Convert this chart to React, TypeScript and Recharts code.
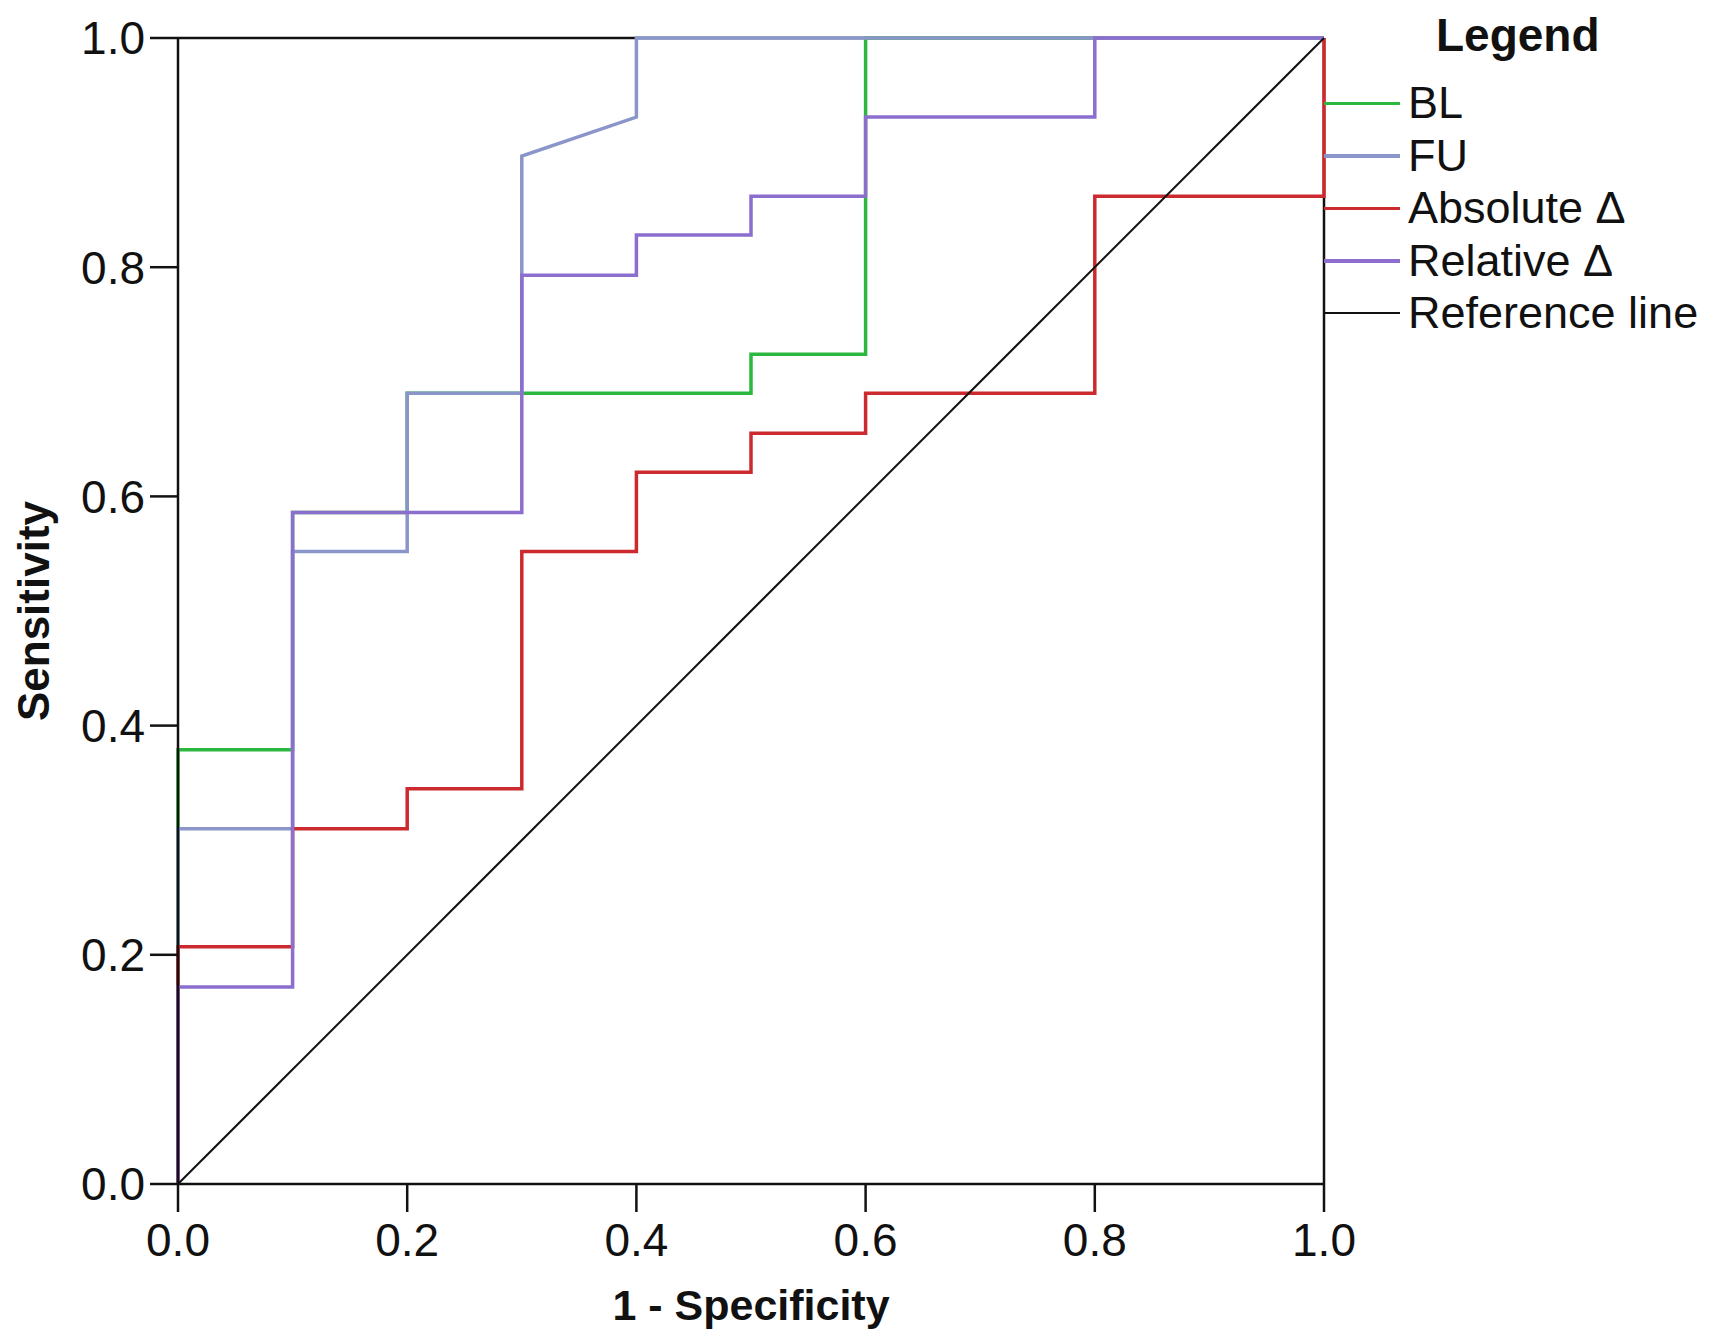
import React from "react";
import { LineChart, Line, XAxis, YAxis, ReferenceLine, Legend, Label } from "recharts";

// ROC curve points (1 - specificity, sensitivity)
const blFpr = [0, 0, 0.1, 0.1, 0.2, 0.2, 0.5, 0.5, 0.6, 0.6, 1];
const blTpr = [0, 0.379, 0.379, 0.586, 0.586, 0.69, 0.69, 0.724, 0.724, 1, 1];

const fuFpr = [0, 0, 0.1, 0.1, 0.2, 0.2, 0.3, 0.3, 0.4, 0.4, 1];
const fuTpr = [0, 0.31, 0.31, 0.552, 0.552, 0.69, 0.69, 0.897, 0.931, 1, 1];

const absFpr = [0, 0, 0.1, 0.1, 0.2, 0.2, 0.3, 0.3, 0.4, 0.4, 0.5, 0.5, 0.6, 0.6, 0.8, 0.8, 1, 1];
const absTpr = [0, 0.207, 0.207, 0.31, 0.31, 0.345, 0.345, 0.552, 0.552, 0.621, 0.621, 0.655, 0.655, 0.69, 0.69, 0.862, 0.862, 1];

const relFpr = [0, 0, 0.1, 0.1, 0.3, 0.3, 0.4, 0.4, 0.5, 0.5, 0.6, 0.6, 0.8, 0.8, 1];
const relTpr = [0, 0.172, 0.172, 0.586, 0.586, 0.793, 0.793, 0.828, 0.828, 0.862, 0.862, 0.931, 0.931, 1, 1];

const refFpr = [0, 1];
const refTpr = [0, 1];

const axisTicks = [0, 0.2, 0.4, 0.6, 0.8, 1.0];

const toPoints = (xs: number[], ys: number[]) => xs.map((x, i) => ({ x, y: ys[i] }));

const series = [
  { name: "BL", data: toPoints(blFpr, blTpr), color: "#2cb83f", width: 3.5 },
  { name: "FU", data: toPoints(fuFpr, fuTpr), color: "#8a96c9", width: 3.5 },
  { name: "Absolute Δ", data: toPoints(absFpr, absTpr), color: "#cc2a2e", width: 3.5 },
  { name: "Relative Δ", data: toPoints(relFpr, relTpr), color: "#8b6ecd", width: 3.5 },
  { name: "Reference line", data: toPoints(refFpr, refTpr), color: "#111111", width: 2 },
];

const FONT = '"Liberation Sans", Arial, sans-serif';
const INK = "#111111";

const LegendBox = () => (
  <div style={{ fontFamily: FONT, color: INK, width: 379 }}>
    <div style={{ fontWeight: "bold", fontSize: 46, height: 54, lineHeight: "54px", paddingLeft: 112 }}>
      Legend
    </div>
    <div style={{ height: 15 }} />
    {series.map((s) => (
      <div key={s.name} style={{ display: "flex", alignItems: "center", height: 52.5 }}>
        <div style={{ width: 76, height: s.width, background: s.color, marginRight: 8 }} />
        <span style={{ fontSize: 45, lineHeight: "52px" }}>{s.name}</span>
      </div>
    ))}
  </div>
);

export default function App() {
  return (
    <div style={{ width: 1695, height: 1325, background: "#fff" }}>
      <LineChart
        width={1695}
        height={1325}
        margin={{ top: 30, right: 379, bottom: 49, left: 20 }}
        style={{ overflow: "visible" }}
      >
        <XAxis
          type="number"
          dataKey="x"
          domain={[0, 1]}
          ticks={axisTicks}
          tickFormatter={(v: number) => v.toFixed(1)}
          tickSize={28}
          tickMargin={11}
          height={100}
          stroke={INK}
          strokeWidth={2.5}
          tick={{ fill: INK, fontSize: 46, fontFamily: FONT }}
        >
          <Label
            content={({ viewBox }: any) => (
              <text
                x={viewBox.x + viewBox.width / 2}
                y={viewBox.y + 121}
                textAnchor="middle"
                dominantBaseline="central"
                fill={INK}
                fontSize={43}
                fontWeight="bold"
                fontFamily={FONT}
              >
                1 - Specificity
              </text>
            )}
          />
        </XAxis>
        <YAxis
          type="number"
          dataKey="y"
          domain={[0, 1]}
          ticks={axisTicks}
          tickFormatter={(v: number) => v.toFixed(1)}
          tickSize={28}
          tickMargin={5}
          width={150}
          stroke={INK}
          strokeWidth={2.5}
          tick={{ fill: INK, fontSize: 46, fontFamily: FONT }}
        >
          <Label
            content={({ viewBox }: any) => {
              const cx = viewBox.x + 5;
              const cy = viewBox.y + viewBox.height / 2;
              return (
                <text
                  x={cx}
                  y={cy}
                  transform={`rotate(-90 ${cx} ${cy})`}
                  textAnchor="middle"
                  dominantBaseline="central"
                  fill={INK}
                  fontSize={44}
                  fontWeight="bold"
                  fontFamily={FONT}
                >
                  Sensitivity
                </text>
              );
            }}
          />
        </YAxis>
        <ReferenceLine y={1} stroke={INK} strokeWidth={2.5} />
        <ReferenceLine x={1} stroke={INK} strokeWidth={2.5} />
        {series.map((s) => (
          <Line
            key={s.name}
            data={s.data}
            dataKey="y"
            name={s.name}
            type="linear"
            stroke={s.color}
            strokeWidth={s.width}
            dot={false}
            activeDot={false}
            isAnimationActive={false}
          />
        ))}
        <Legend
          layout="horizontal"
          align="center"
          verticalAlign="middle"
          wrapperStyle={{ left: 1316, top: 0, width: 379 }}
          content={() => <LegendBox />}
        />
      </LineChart>
    </div>
  );
}
